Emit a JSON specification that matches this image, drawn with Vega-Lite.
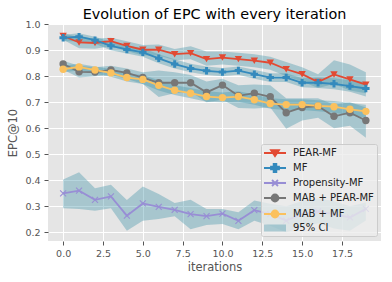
{
  "$schema": "https://vega.github.io/schema/vega-lite/v6.json",
  "autosize": "none",
  "padding": {"left": 48, "top": 24, "right": 11, "bottom": 41},
  "width": 333,
  "height": 217,
  "background": "white",
  "title": {"text": "Evolution of EPC with every iteration", "font": "DejaVu Sans", "fontSize": 14.4, "fontWeight": "normal", "color": "#000000", "frame": "group", "offset": -3, "anchor": "middle"},
  "config": {
    "font": "DejaVu Sans",
    "view": {"fill": "#E5E5E5", "stroke": null},
    "axis": {"domain": false, "grid": true, "gridColor": "#FFFFFF", "gridWidth": 1, "tickColor": "#555555", "tickSize": 4, "labelColor": "#555555", "labelFont": "DejaVu Sans", "labelFontSize": 9.5, "titleColor": "#555555", "titleFont": "DejaVu Sans", "titleFontSize": 11.5, "titleFontWeight": "normal", "labelFlush": false}
  },
  "data": {"values": [
    {"s":"PEAR-MF","i":0,"v":0.955,"lo":0.940,"hi":0.965},
    {"s":"PEAR-MF","i":1,"v":0.930,"lo":0.908,"hi":0.950},
    {"s":"PEAR-MF","i":2,"v":0.928,"lo":0.906,"hi":0.945},
    {"s":"PEAR-MF","i":3,"v":0.935,"lo":0.915,"hi":0.948},
    {"s":"PEAR-MF","i":4,"v":0.917,"lo":0.897,"hi":0.935},
    {"s":"PEAR-MF","i":5,"v":0.902,"lo":0.880,"hi":0.920},
    {"s":"PEAR-MF","i":6,"v":0.902,"lo":0.880,"hi":0.922},
    {"s":"PEAR-MF","i":7,"v":0.885,"lo":0.862,"hi":0.905},
    {"s":"PEAR-MF","i":8,"v":0.889,"lo":0.865,"hi":0.915},
    {"s":"PEAR-MF","i":9,"v":0.866,"lo":0.840,"hi":0.895},
    {"s":"PEAR-MF","i":10,"v":0.872,"lo":0.845,"hi":0.895},
    {"s":"PEAR-MF","i":11,"v":0.866,"lo":0.840,"hi":0.890},
    {"s":"PEAR-MF","i":12,"v":0.860,"lo":0.835,"hi":0.885},
    {"s":"PEAR-MF","i":13,"v":0.852,"lo":0.825,"hi":0.875},
    {"s":"PEAR-MF","i":14,"v":0.827,"lo":0.800,"hi":0.855},
    {"s":"PEAR-MF","i":15,"v":0.808,"lo":0.780,"hi":0.835},
    {"s":"PEAR-MF","i":16,"v":0.778,"lo":0.755,"hi":0.808},
    {"s":"PEAR-MF","i":17,"v":0.807,"lo":0.770,"hi":0.862},
    {"s":"PEAR-MF","i":18,"v":0.788,"lo":0.745,"hi":0.845},
    {"s":"PEAR-MF","i":19,"v":0.768,"lo":0.735,"hi":0.815},
    {"s":"MF","i":0,"v":0.948,"lo":0.935,"hi":0.960},
    {"s":"MF","i":1,"v":0.952,"lo":0.935,"hi":0.965},
    {"s":"MF","i":2,"v":0.939,"lo":0.925,"hi":0.952},
    {"s":"MF","i":3,"v":0.917,"lo":0.900,"hi":0.932},
    {"s":"MF","i":4,"v":0.903,"lo":0.888,"hi":0.918},
    {"s":"MF","i":5,"v":0.892,"lo":0.875,"hi":0.908},
    {"s":"MF","i":6,"v":0.869,"lo":0.850,"hi":0.885},
    {"s":"MF","i":7,"v":0.847,"lo":0.830,"hi":0.865},
    {"s":"MF","i":8,"v":0.830,"lo":0.815,"hi":0.848},
    {"s":"MF","i":9,"v":0.821,"lo":0.805,"hi":0.838},
    {"s":"MF","i":10,"v":0.816,"lo":0.800,"hi":0.832},
    {"s":"MF","i":11,"v":0.822,"lo":0.806,"hi":0.838},
    {"s":"MF","i":12,"v":0.808,"lo":0.790,"hi":0.825},
    {"s":"MF","i":13,"v":0.795,"lo":0.778,"hi":0.812},
    {"s":"MF","i":14,"v":0.795,"lo":0.778,"hi":0.812},
    {"s":"MF","i":15,"v":0.775,"lo":0.758,"hi":0.792},
    {"s":"MF","i":16,"v":0.775,"lo":0.755,"hi":0.795},
    {"s":"MF","i":17,"v":0.771,"lo":0.750,"hi":0.792},
    {"s":"MF","i":18,"v":0.762,"lo":0.740,"hi":0.785},
    {"s":"MF","i":19,"v":0.753,"lo":0.722,"hi":0.778},
    {"s":"Propensity-MF","i":0,"v":0.350,"lo":0.292,"hi":0.403},
    {"s":"Propensity-MF","i":1,"v":0.360,"lo":0.290,"hi":0.431},
    {"s":"Propensity-MF","i":2,"v":0.325,"lo":0.283,"hi":0.369},
    {"s":"Propensity-MF","i":3,"v":0.338,"lo":0.292,"hi":0.383},
    {"s":"Propensity-MF","i":4,"v":0.264,"lo":0.206,"hi":0.324},
    {"s":"Propensity-MF","i":5,"v":0.311,"lo":0.244,"hi":0.376},
    {"s":"Propensity-MF","i":6,"v":0.298,"lo":0.251,"hi":0.347},
    {"s":"Propensity-MF","i":7,"v":0.286,"lo":0.262,"hi":0.313},
    {"s":"Propensity-MF","i":8,"v":0.270,"lo":0.212,"hi":0.325},
    {"s":"Propensity-MF","i":9,"v":0.262,"lo":0.228,"hi":0.290},
    {"s":"Propensity-MF","i":10,"v":0.272,"lo":0.232,"hi":0.290},
    {"s":"Propensity-MF","i":11,"v":0.244,"lo":0.212,"hi":0.277},
    {"s":"Propensity-MF","i":12,"v":0.285,"lo":0.244,"hi":0.322},
    {"s":"Propensity-MF","i":13,"v":0.270,"lo":0.225,"hi":0.310},
    {"s":"Propensity-MF","i":14,"v":0.245,"lo":0.200,"hi":0.300},
    {"s":"Propensity-MF","i":15,"v":0.270,"lo":0.220,"hi":0.320},
    {"s":"Propensity-MF","i":16,"v":0.280,"lo":0.235,"hi":0.330},
    {"s":"Propensity-MF","i":17,"v":0.270,"lo":0.215,"hi":0.320},
    {"s":"Propensity-MF","i":18,"v":0.257,"lo":0.206,"hi":0.300},
    {"s":"Propensity-MF","i":19,"v":0.290,"lo":0.245,"hi":0.315},
    {"s":"MAB + PEAR-MF","i":0,"v":0.847,"lo":0.825,"hi":0.860},
    {"s":"MAB + PEAR-MF","i":1,"v":0.817,"lo":0.795,"hi":0.840},
    {"s":"MAB + PEAR-MF","i":2,"v":0.816,"lo":0.800,"hi":0.835},
    {"s":"MAB + PEAR-MF","i":3,"v":0.824,"lo":0.805,"hi":0.840},
    {"s":"MAB + PEAR-MF","i":4,"v":0.813,"lo":0.790,"hi":0.830},
    {"s":"MAB + PEAR-MF","i":5,"v":0.795,"lo":0.770,"hi":0.815},
    {"s":"MAB + PEAR-MF","i":6,"v":0.775,"lo":0.720,"hi":0.822},
    {"s":"MAB + PEAR-MF","i":7,"v":0.775,"lo":0.735,"hi":0.815},
    {"s":"MAB + PEAR-MF","i":8,"v":0.775,"lo":0.740,"hi":0.805},
    {"s":"MAB + PEAR-MF","i":9,"v":0.738,"lo":0.700,"hi":0.780},
    {"s":"MAB + PEAR-MF","i":10,"v":0.766,"lo":0.710,"hi":0.790},
    {"s":"MAB + PEAR-MF","i":11,"v":0.725,"lo":0.678,"hi":0.765},
    {"s":"MAB + PEAR-MF","i":12,"v":0.735,"lo":0.676,"hi":0.768},
    {"s":"MAB + PEAR-MF","i":13,"v":0.721,"lo":0.680,"hi":0.765},
    {"s":"MAB + PEAR-MF","i":14,"v":0.660,"lo":0.598,"hi":0.715},
    {"s":"MAB + PEAR-MF","i":15,"v":0.680,"lo":0.630,"hi":0.715},
    {"s":"MAB + PEAR-MF","i":16,"v":0.685,"lo":0.640,"hi":0.715},
    {"s":"MAB + PEAR-MF","i":17,"v":0.646,"lo":0.600,"hi":0.690},
    {"s":"MAB + PEAR-MF","i":18,"v":0.660,"lo":0.610,"hi":0.700},
    {"s":"MAB + PEAR-MF","i":19,"v":0.630,"lo":0.564,"hi":0.680},
    {"s":"MAB + MF","i":0,"v":0.827,"lo":0.815,"hi":0.840},
    {"s":"MAB + MF","i":1,"v":0.836,"lo":0.822,"hi":0.848},
    {"s":"MAB + MF","i":2,"v":0.824,"lo":0.810,"hi":0.838},
    {"s":"MAB + MF","i":3,"v":0.813,"lo":0.798,"hi":0.828},
    {"s":"MAB + MF","i":4,"v":0.795,"lo":0.780,"hi":0.812},
    {"s":"MAB + MF","i":5,"v":0.788,"lo":0.770,"hi":0.805},
    {"s":"MAB + MF","i":6,"v":0.765,"lo":0.745,"hi":0.785},
    {"s":"MAB + MF","i":7,"v":0.746,"lo":0.728,"hi":0.765},
    {"s":"MAB + MF","i":8,"v":0.735,"lo":0.715,"hi":0.755},
    {"s":"MAB + MF","i":9,"v":0.722,"lo":0.702,"hi":0.742},
    {"s":"MAB + MF","i":10,"v":0.718,"lo":0.700,"hi":0.738},
    {"s":"MAB + MF","i":11,"v":0.722,"lo":0.702,"hi":0.742},
    {"s":"MAB + MF","i":12,"v":0.710,"lo":0.690,"hi":0.730},
    {"s":"MAB + MF","i":13,"v":0.695,"lo":0.675,"hi":0.715},
    {"s":"MAB + MF","i":14,"v":0.691,"lo":0.670,"hi":0.712},
    {"s":"MAB + MF","i":15,"v":0.691,"lo":0.670,"hi":0.712},
    {"s":"MAB + MF","i":16,"v":0.686,"lo":0.665,"hi":0.708},
    {"s":"MAB + MF","i":17,"v":0.683,"lo":0.660,"hi":0.705},
    {"s":"MAB + MF","i":18,"v":0.673,"lo":0.650,"hi":0.697},
    {"s":"MAB + MF","i":19,"v":0.665,"lo":0.640,"hi":0.690}
  ]},
  "encoding": {
    "x": {"field": "i", "type": "quantitative", "scale": {"domain": [-0.95, 19.95], "nice": false, "zero": false}, "axis": {"values": [0, 2.5, 5, 7.5, 10, 12.5, 15, 17.5], "format": ".1f", "title": "iterations", "labelPadding": 3, "titlePadding": 4}},
    "y": {"field": "v", "type": "quantitative", "scale": {"domain": [0.1665, 1.001], "nice": false, "zero": false}, "axis": {"values": [0.2, 0.3, 0.4, 0.5, 0.6, 0.7, 0.8, 0.9, 1.0], "format": ".1f", "title": "EPC@10", "labelPadding": 4, "titlePadding": 6}}
  },
  "layer": [
    {
      "mark": {"type": "area", "fill": "#4a98ad", "opacity": 0.4},
      "encoding": {
        "y": {"field": "lo", "type": "quantitative"},
        "y2": {"field": "hi"},
        "detail": {"field": "s"}
      }
    },
    {
      "mark": {"type": "line", "strokeWidth": 1.8},
      "encoding": {
        "color": {
          "field": "s", "type": "nominal",
          "scale": {"domain": ["PEAR-MF", "MF", "Propensity-MF", "MAB + PEAR-MF", "MAB + MF", "95% CI"], "range": ["#E24A33", "#348ABD", "#988ED5", "#777777", "#FBC15E", "#4a98ad"]},
          "legend": {
            "title": null, "orient": "none", "legendX": 213, "legendY": 120,
            "padding": 3, "rowPadding": 0, "symbolSize": 100, "symbolStrokeWidth": 1.8,
            "labelOffset": 17, "labelFontSize": 10, "labelFont": "DejaVu Sans", "labelColor": "#222222",
            "fillColor": "rgba(236,236,236,0.8)", "strokeColor": "#cccccc", "cornerRadius": 2,
            "encode": {"symbols": {"update": {
              "shape": {"signal": "datum.value === 'PEAR-MF' ? 'M-1.2,0H3.2M0.2,-0.55H1.8L1,0.65Z' : datum.value === 'MF' ? 'M-1.2,0H3.2M0.73,-0.8H1.27V-0.27H1.8V0.27H1.27V0.8H0.73V0.27H0.2V-0.27H0.73Z' : datum.value === 'Propensity-MF' ? 'M-1.2,0H3.2M0.4,-0.6L1.6,0.6M0.4,0.6L1.6,-0.6' : datum.value === '95% CI' ? 'M-1.2,-0.7H3.2V0.7H-1.2Z' : 'M-1.2,0H3.2M1.7,0A0.7,0.7 0 1,1 0.3,0A0.7,0.7 0 1,1 1.7,0Z'"},
              "fill": {"scale": "color", "field": "value"},
              "stroke": {"scale": "color", "field": "value"},
              "fillOpacity": {"signal": "datum.value === '95% CI' ? 0.4 : 1"},
              "strokeOpacity": {"signal": "datum.value === '95% CI' ? 0 : 1"},
              "strokeWidth": {"value": 1.8},
              "opacity": {"value": 1}
            }}}
          }
        },
        "detail": {"field": "s"}
      }
    },
    {
      "transform": [{"filter": "datum.s !== 'Propensity-MF'"}],
      "mark": {"type": "point", "filled": true, "opacity": 1, "size": 55},
      "encoding": {
        "color": {"field": "s", "type": "nominal", "legend": null},
        "shape": {"field": "s", "type": "nominal", "scale": {"domain": ["PEAR-MF", "MF", "MAB + PEAR-MF", "MAB + MF"], "range": ["triangle-down", "cross", "circle", "circle"]}, "legend": null}
      }
    },
    {
      "transform": [{"filter": "datum.s === 'Propensity-MF'"}],
      "mark": {"type": "point", "filled": false, "opacity": 1, "size": 36, "strokeWidth": 1.1, "shape": "M-1,-1L1,1M-1,1L1,-1"},
      "encoding": {
        "color": {"field": "s", "type": "nominal", "legend": null}
      }
    }
  ]
}
